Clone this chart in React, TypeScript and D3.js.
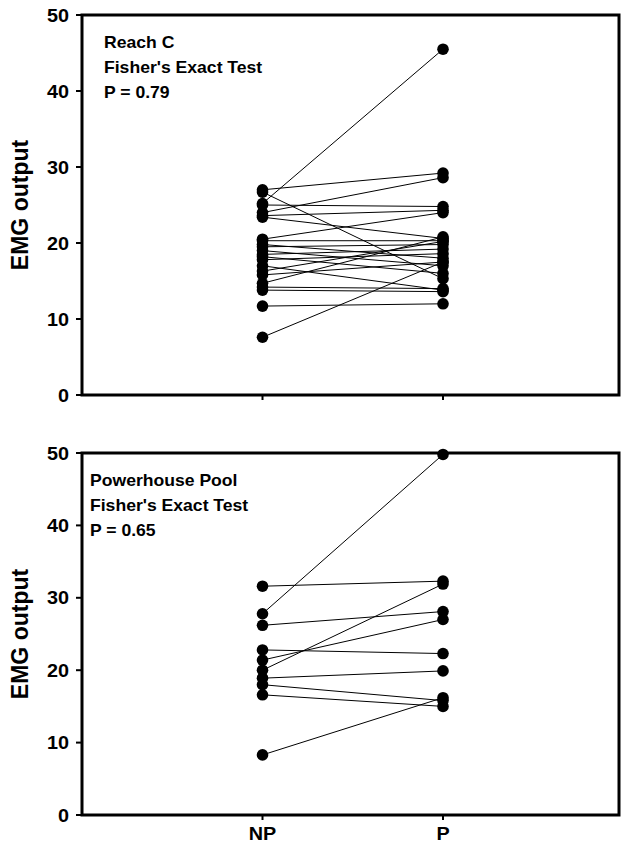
import React from "react";
import * as d3 from "d3";

const categories = ["NP", "P"];
const yTicks = [0, 10, 20, 30, 40, 50];

const reachNP = [25.2, 27.0, 26.7, 24.0, 25.0, 23.6, 23.4, 20.5, 20.3, 19.8, 19.5, 19.0, 18.5, 18.2, 17.8, 17.0, 16.3, 15.8, 14.7, 14.2, 13.8, 11.7, 7.6];
const reachP = [45.5, 29.2, 15.3, 28.6, 24.8, 24.3, 20.6, 24.0, 20.3, 18.0, 19.8, 17.0, 19.2, 16.0, 18.6, 13.8, 20.2, 17.5, 20.8, 14.0, 13.6, 12.0, 17.5];
const reachText = ["Reach C", "Fisher's Exact Test", "P = 0.79"];

const poolNP = [31.6, 27.8, 26.2, 22.8, 21.4, 20.0, 18.9, 18.0, 16.6, 8.3];
const poolP = [32.3, 49.8, 28.1, 22.3, 27.0, 31.9, 19.9, 15.8, 15.0, 16.2];
const poolText = ["Powerhouse Pool", "Fisher's Exact Test", "P = 0.65"];

const FONT = "'Liberation Sans', Arial, sans-serif";
const SX = 1.1;

const x = d3.scaleLinear().domain([0, 2.975]).range([82, 619]);

function Panel({ top, bottom, np, p, text, textX, showLabels }: any) {
  const y = d3.scaleLinear().domain([0, 50]).range([bottom, top]);
  const xl = x(0), xr = x(2.975);
  return (
    <g>
      {np.map((v: number, i: number) => (
        <line key={"l" + i} x1={x(1)} y1={y(v)} x2={x(2)} y2={y(p[i])} stroke="#000" strokeWidth={1} />
      ))}
      {np.map((v: number, i: number) => (
        <circle key={"a" + i} cx={x(1)} cy={y(v)} r={5.8} fill="#000" />
      ))}
      {p.map((v: number, i: number) => (
        <circle key={"b" + i} cx={x(2)} cy={y(v)} r={5.8} fill="#000" />
      ))}
      <rect x={xl} y={top} width={xr - xl} height={bottom - top} fill="none" stroke="#000" strokeWidth={3} />
      {yTicks.map((t) => (
        <g key={t}>
          <line x1={xl - 6} x2={xl} y1={y(t)} y2={y(t)} stroke="#000" strokeWidth={2} />
          <g transform={`translate(69,${y(t) + 6.5}) scale(${SX},1)`}>
            <text textAnchor="end" fontFamily={FONT} fontWeight="bold" fontSize={18}>{t}</text>
          </g>
        </g>
      ))}
      {categories.map((c, i) => (
        <g key={c}>
          <line x1={x(i + 1)} x2={x(i + 1)} y1={bottom} y2={bottom + 5} stroke="#000" strokeWidth={2} />
          {showLabels && (
            <g transform={`translate(${x(i + 1)},${bottom + 25}) scale(${SX},1)`}>
              <text textAnchor="middle" fontFamily={FONT} fontWeight="bold" fontSize={18}>{c}</text>
            </g>
          )}
        </g>
      ))}
      {text.map((s: string, i: number) => (
        <g key={s + i} transform={`translate(${textX},${top + 33 + i * 25}) scale(${SX},1)`}>
          <text fontFamily={FONT} fontWeight="bold" fontSize={16}>{s}</text>
        </g>
      ))}
      <g transform={`translate(28,${(top + bottom) / 2}) rotate(-90)`}>
        <text textAnchor="middle" fontFamily={FONT} fontWeight="bold" fontSize={23}>EMG output</text>
      </g>
    </g>
  );
}

export default function App() {
  return (
    <svg width={622} height={849} style={{ position: "absolute", left: 0, top: 0, background: "#fff" }}>
      <rect width={622} height={849} fill="#fff" />
      <Panel top={15} bottom={395} np={reachNP} p={reachP} text={reachText} textX={104} showLabels={false} />
      <Panel top={453} bottom={815} np={poolNP} p={poolP} text={poolText} textX={90} showLabels={true} />
    </svg>
  );
}
